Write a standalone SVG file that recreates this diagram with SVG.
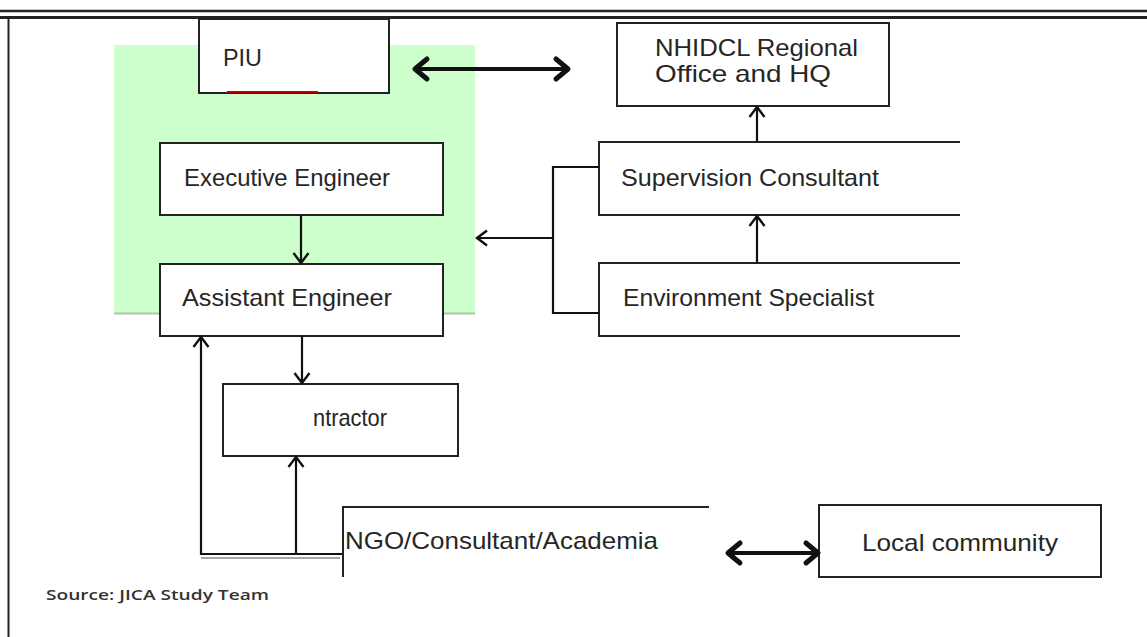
<svg xmlns="http://www.w3.org/2000/svg" width="1147" height="637" viewBox="0 0 1147 637">
  <defs>
    <style>
      .box { fill: #ffffff; stroke: #222222; stroke-width: 2; }
      .open { fill: none; stroke: #222222; stroke-width: 2; }
      .lbl { font-family: "Liberation Sans", Arial, sans-serif; font-size: 24px; fill: #262626; }
      .src { font-family: "Open Sans", "Liberation Sans", sans-serif; font-size: 15px; font-weight: 600; fill: #333333; }
      .conn { fill: none; stroke: #111111; stroke-width: 2.2; }
      .thick { fill: none; stroke: #111111; stroke-width: 4; }
    </style>
    <marker id="ah" markerUnits="userSpaceOnUse" viewBox="0 0 18 18" markerWidth="18" markerHeight="18" refX="13" refY="9" orient="auto-start-reverse">
      <path d="M3,1.5 L13,9 L3,16.5" fill="none" stroke="#111111" stroke-width="2.4" stroke-linejoin="miter"/>
    </marker>
    <marker id="tah" markerUnits="userSpaceOnUse" viewBox="0 0 28 28" markerWidth="28" markerHeight="28" refX="19" refY="14" orient="auto-start-reverse">
      <path d="M6,4 L18,14 L6,24" fill="none" stroke="#111111" stroke-width="5" stroke-linecap="round" stroke-linejoin="round"/>
    </marker>
  </defs>

  <rect x="0" y="0" width="1147" height="637" fill="#ffffff"/>

  <!-- frame -->
  <g id="frame">
    <line x1="0" y1="11" x2="1147" y2="11" stroke="#222222" stroke-width="2.5"/>
    <line x1="0" y1="17.5" x2="1147" y2="17.5" stroke="#222222" stroke-width="3"/>
    <line x1="8.5" y1="17" x2="8.5" y2="637" stroke="#222222" stroke-width="2"/>
  </g>

  <!-- green background area -->
  <g id="piu-area">
    <rect x="114" y="45" width="361" height="268" fill="#ccffcc"/>
    <line x1="114" y1="313.5" x2="475" y2="313.5" stroke="#a9c6a9" stroke-width="2"/>
  </g>

  <g id="piu">
    <rect class="box" x="199" y="19" width="190" height="74"/>
    <line x1="227" y1="92" x2="318" y2="92" stroke="#c00000" stroke-width="2"/>
    <text class="lbl" x="223" y="66" textLength="39" lengthAdjust="spacingAndGlyphs">PIU</text>
  </g>

  <g id="nhidcl">
    <rect class="box" x="617" y="23" width="272" height="83"/>
    <text class="lbl" x="655" y="56" textLength="203" lengthAdjust="spacingAndGlyphs">NHIDCL Regional</text>
    <text class="lbl" x="655" y="82" textLength="176" lengthAdjust="spacingAndGlyphs">Office and HQ</text>
  </g>

  <g id="executive-engineer">
    <rect class="box" x="160" y="143" width="283" height="72"/>
    <text class="lbl" x="184" y="186" textLength="206" lengthAdjust="spacingAndGlyphs">Executive  Engineer</text>
  </g>

  <g id="assistant-engineer">
    <rect class="box" x="160" y="264" width="283" height="72"/>
    <text class="lbl" x="182" y="306" textLength="210" lengthAdjust="spacingAndGlyphs">Assistant Engineer</text>
  </g>

  <g id="supervision-consultant">
    <path class="open" d="M960,142 H599 V215 H960"/>
    <text class="lbl" x="621" y="186" textLength="258" lengthAdjust="spacingAndGlyphs">Supervision Consultant</text>
  </g>

  <g id="environment-specialist">
    <path class="open" d="M960,263 H599 V336 H960"/>
    <text class="lbl" x="623" y="306" textLength="251" lengthAdjust="spacingAndGlyphs">Environment Specialist</text>
  </g>

  <g id="contractor">
    <rect class="box" x="223" y="384" width="235" height="72"/>
    <text class="lbl" x="313" y="426" textLength="74" lengthAdjust="spacingAndGlyphs">ntractor</text>
  </g>

  <g id="ngo">
    <path class="open" d="M709,507 H343 V577"/>
    <text class="lbl" x="345" y="549" textLength="313" lengthAdjust="spacingAndGlyphs">NGO/Consultant/Academia</text>
  </g>

  <g id="local-community">
    <rect class="box" x="819" y="505" width="282" height="72"/>
    <text class="lbl" x="862" y="551" textLength="196" lengthAdjust="spacingAndGlyphs">Local community</text>
  </g>

  <g id="connectors">
    <line class="thick" x1="414" y1="69" x2="569" y2="69" marker-start="url(#tah)" marker-end="url(#tah)"/>
    <line class="conn" x1="757" y1="142" x2="757" y2="107" marker-end="url(#ah)"/>
    <line class="conn" x1="757" y1="263" x2="757" y2="216" marker-end="url(#ah)"/>
    <path class="conn" d="M599,167 H553 V313 H599"/>
    <line class="conn" x1="553" y1="238" x2="477" y2="238" marker-end="url(#ah)"/>
    <line class="conn" x1="301" y1="215" x2="301" y2="263" marker-end="url(#ah)"/>
    <line class="conn" x1="302" y1="336" x2="302" y2="383" marker-end="url(#ah)"/>
    <line class="conn" x1="296" y1="554" x2="296" y2="457" marker-end="url(#ah)"/>
    <path class="conn" d="M342,554 H201 V337" marker-end="url(#ah)"/>
    <line x1="201" y1="558" x2="340" y2="558" stroke="#888888" stroke-width="1.5"/>
    <line class="thick" x1="727" y1="553" x2="819" y2="553" marker-start="url(#tah)" marker-end="url(#tah)"/>
  </g>

  <text class="src" x="46" y="600" textLength="223" lengthAdjust="spacingAndGlyphs">Source: JICA Study Team</text>
</svg>
